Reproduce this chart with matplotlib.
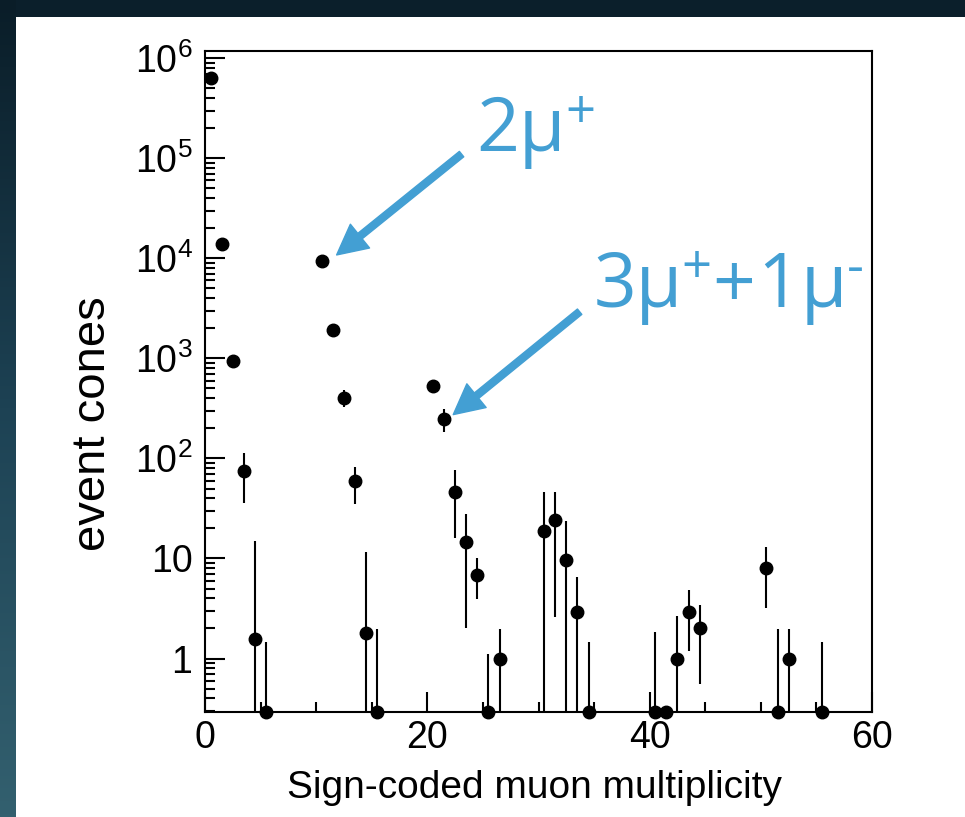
import matplotlib
matplotlib.use('Agg')
import matplotlib.pyplot as plt
import numpy as np
from matplotlib.patches import Rectangle
from matplotlib.colors import LinearSegmentedColormap
from matplotlib.ticker import FixedLocator, FixedFormatter, MultipleLocator, LogLocator, NullFormatter

plt.rcParams['font.family'] = 'Liberation Sans'
plt.rcParams['mathtext.fontset'] = 'custom'
plt.rcParams['mathtext.rm'] = 'Liberation Sans'
plt.rcParams['mathtext.it'] = 'Liberation Sans:italic'
plt.rcParams['mathtext.bf'] = 'Liberation Sans:bold'

# data (0 = empty bin, drawn on the axis floor)
multiplicity = np.array([0.5, 1.5, 2.5, 3.5, 4.5, 5.5, 10.5, 11.5, 12.5, 13.5, 14.5, 15.5,
                         20.5, 21.5, 22.5, 23.5, 24.5, 25.5, 26.5, 30.5, 31.5, 32.5, 33.5, 34.5,
                         40.5, 41.5, 42.5, 43.5, 44.5, 50.5, 51.5, 52.5, 55.5])
cones = np.array([630000, 13900, 940, 75, 1.56, 0, 9400, 1900, 400, 59, 1.78, 0,
                  525, 245, 46, 14.7, 6.9, 0, 1, 19, 24, 9.6, 2.9, 0,
                  0, 0, 1, 2.9, 2, 8, 0, 1, 0])
cones_low = np.array([620000, 13200, 880, 36, 0, 0, 9000, 1750, 330, 35, 0, 0,
                      450, 183, 16, 2, 3.9, 0, 0, 0, 2.6, 0, 0, 0,
                      0, 0, 0, 1.2, 0.55, 3.2, 0, 0, 0])
cones_high = np.array([640000, 14600, 1000, 113, 15, 1.45, 9800, 2050, 480, 83, 11.6, 1.96,
                       600, 311, 77, 28, 10, 1.1, 1.97, 46, 46, 23.6, 6.5, 1.45,
                       1.82, 0, 2.67, 4.8, 3.4, 13, 1.97, 1.97, 1.45])

ytick_vals = [1, 10, 1e2, 1e3, 1e4, 1e5, 1e6]
ytick_labels = ['1', '10', r'$10^{2}$', r'$10^{3}$', r'$10^{4}$', r'$10^{5}$', r'$10^{6}$']

ymin, ymax = 0.292, 1.18e6
blue = '#439fd3'

W, H = 965, 817
fig = plt.figure(figsize=(W / 100, H / 100), dpi=100, facecolor='#0b1f2b')

# dark gradient strip on the left, white slide panel
strip = fig.add_axes([0, 0, 16 / W, 1])
cmap = LinearSegmentedColormap.from_list('bg', ['#0a1d28', '#1d4254', '#33606f'])
strip.imshow(np.linspace(0, 1, 256)[:, None], aspect='auto', cmap=cmap)
strip.axis('off')
fig.add_artist(Rectangle((16 / W, 0), 1 - 16 / W, 1 - 17 / H, transform=fig.transFigure,
                         facecolor='white', edgecolor='none', zorder=-1))

ax = fig.add_axes([205 / W, 1 - 712 / H, (872 - 205) / W, (712 - 51) / H])
ax.set_yscale('log')
ax.set_xlim(0, 60)
ax.set_ylim(ymin, ymax)

ax.vlines(multiplicity, cones_low, cones_high, color='black', lw=1.5, zorder=2)
y_draw = np.where(cones > 0, cones, ymin)
ax.plot(multiplicity, y_draw, 'o', ms=9, color='black', clip_on=False, zorder=3)

ax.yaxis.set_major_locator(FixedLocator(ytick_vals))
ax.yaxis.set_major_formatter(FixedFormatter(ytick_labels))
ax.yaxis.set_minor_locator(LogLocator(base=10, subs=np.arange(2, 10), numticks=20))
ax.yaxis.set_minor_formatter(NullFormatter())
ax.xaxis.set_major_locator(MultipleLocator(20))
ax.xaxis.set_minor_locator(MultipleLocator(5))

ax.tick_params(which='both', direction='in', top=False, right=False, width=1.5)
ax.tick_params(which='major', length=14.4, labelsize=27)
ax.tick_params(which='minor', length=7.2)
ax.tick_params(axis='x', pad=6)
ax.tick_params(axis='y', pad=9)
for s in ax.spines.values():
    s.set_linewidth(1.5)

ax.set_xlabel('Sign-coded muon multiplicity', fontsize=28)
ax.xaxis.set_label_coords(0.494, -0.088)
ax.set_ylabel('event cones', fontsize=34)
ax.yaxis.set_label_coords(-0.135, 0.436)

# arrows pointing at the two peaks
arrow = dict(arrowstyle='simple,head_length=1.08,head_width=1.1,tail_width=0.25',
             mutation_scale=20, color=blue, shrinkA=0, shrinkB=0)
ax.annotate('', xy=(11.84, 1.08e4), xytext=(23.08, 1.1e5), arrowprops=arrow)
ax.annotate('', xy=(22.33, 274), xytext=(33.7, 2925), arrowprops=arrow)

# labels built from pieces: (text, x px, baseline px, size)
label_parts = [('2μ', 476, 151, 54), ('+', 565, 128, 38),
               ('3μ', 594, 307, 54), ('+', 681, 283, 38), ('+', 712, 307, 54),
               ('1', 757, 307, 54), ('μ', 801, 307, 54), ('-', 847, 283, 38)]
for txt, px, py, size in label_parts:
    fig.text(px / W, 1 - py / H, txt, fontsize=size, color=blue, family='Open Sans',
             ha='left', va='baseline')

fig.savefig('out.png', dpi=100, facecolor=fig.get_facecolor())
